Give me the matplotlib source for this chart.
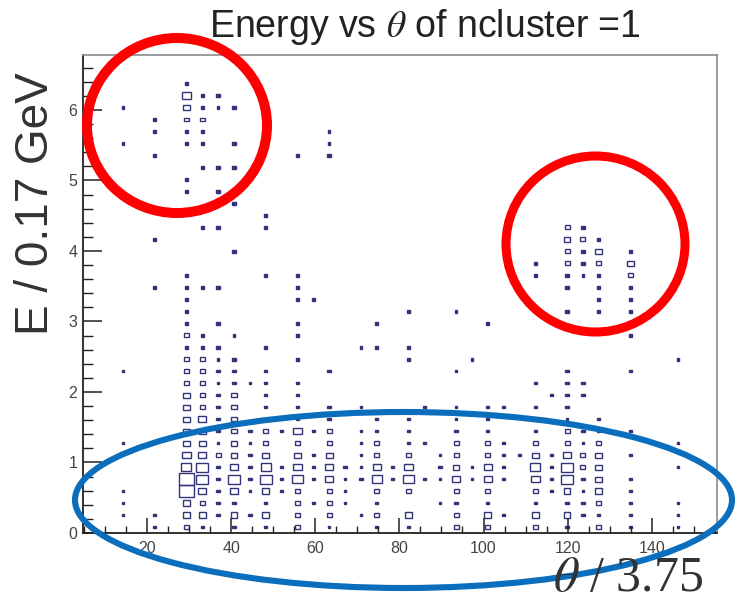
import matplotlib
matplotlib.use("Agg")
import matplotlib.pyplot as plt
from matplotlib.patches import Rectangle, Ellipse
from matplotlib.ticker import MultipleLocator

# -------------------------------- Data --------------------------------
# 2D histogram contents: one string per energy bin, from the top bin (37)
# down to bin 0; one character per theta bin ('.' = empty bin).
COUNTS = [
    "....2. ...... ...... ...... ...... ......",  # 37
    "....52 2..... ...... ...... ...... ......",  # 36
    "1...42 12.... ...... ...... ...... ......",  # 35
    "..2.33 ...... ...... ...... ...... ......",  # 34
    "..1.22 ...... .1.... ...... ...... ......",  # 33
    "1...22 .2.... .1.... ...... ...... ......",  # 32
    "..2... .....1 .2.... ...... ...... ......",  # 31
    ".....2 22.... ...... ...... ...... ......",  # 30
    "....2. ...... ...... ...... ...... ......",  # 29
    "....2. 2..... ...... ...... ...... ......",  # 28
    "...... .2.... ...... ...... ...... ......",  # 27
    "...... ...2.. ...... ...... ...... ......",  # 26
    ".....2 2..1.. ...... ...... ....32 ......",  # 25
    "..1... ...... ...... ...... ....43 1.....",  # 24
    "...... .2.... ...... ...... ....32 4.2...",  # 23
    "...... ...... ...... ...... ..1.32 3.4...",  # 22
    "....1. ...1.1 ...... ...... ..1.21 2.3...",  # 21
    "..1.22 2....1 ...... ...... ....2. 2.2...",  # 20
    "....2. .....1 2..... ...... ...... 2.2...",  # 19
    "....2. ...... ...... 1..1.. ....2. 2.2...",  # 18
    "....2. 2....1 ....2. .....1 ...... ......",  # 17
    "....32 .1...2 ...... ...... ...... ..2...",  # 16
    "....22 2..1.. ...12. 1..... ...... ......",  # 15
    "....33 12...1 ...... 2...1. ...... .....1",  # 14
    "1...33 22.1.. .2.... ...1.. ....2. ..2...",  # 13
    "....33 1211.1 ...... ...... ..2.22 ......",  # 12
    "....43 23.2.2 ...... ...... ...122 ......",  # 11
    "....43 23.2.1 .2.1.. .1.1.1 1.2.2. ......",  # 10
    "....45 23.2.2 .2..1. 1..1.1 ..1.1. 2.....",  # 9
    "....44 232325 23.12. 2..2.2 ..2.32 2.1...",  # 8
    "1...44 1413.3 .3.13. 11.3.3 1.3.31 3....1",  # 7
    "....55 3424.4 14.13. 3.13.3 214253 4.1...",  # 6
    "....67 252625 252151 5.2415 2.6273 4....1",  # 5
    "....97 272726 251261 611515 2.5272 4.2...",  # 4
    "1...95 251413 .31.3. 3..3.3 ..3141 4.1...",  # 3
    "1...43 22.2.3 231.2. ..12.2 ..2.22 3.2..1",  # 2
    "1.1.44 2424.3 .3.13. 4..3.4 1.4.42 2.2..1",  # 1
    "..1.32 .2.2.3 .1..2. 2..3.3 ..3.2. 3.2..1",  # 0
]

THETA_FIRST = 14.3   # centre of the first theta bin
THETA_BIN = 3.77
E_BIN = 0.17

TITLE = "Energy vs $\\theta$ of ncluster =1"
XLABEL = "$\\theta$ / 3.75"
YLABEL = "E / 0.17 GeV"

BOX_COLOR = "#33337a"
MIN_BOX_PX = 2.6
# ----------------------------------------------------------------------

plt.rcParams["font.family"] = ["Liberation Sans", "DejaVu Sans"]
plt.rcParams["mathtext.fontset"] = "stix"

fig = plt.figure(figsize=(7.36, 6.07), dpi=100)
ax = fig.add_axes([83 / 736, 1 - 533 / 607, 634 / 736, 478 / 607])
ax.set_xlim(4.8, 155.5)
ax.set_ylim(0, 6.78)

# data units per pixel, to keep the tiniest boxes visible as dots
px_x = (155.5 - 4.8) / 634
px_y = 6.78 / 478

max_count = max(int(c) for row in COUNTS for c in row if c.isdigit())
n_rows = len(COUNTS)
for r, row in enumerate(COUNTS):
    j = n_rows - 1 - r
    for i, ch in enumerate(row.replace(" ", "")):
        if ch == ".":
            continue
        c = int(ch)
        xc = THETA_FIRST + i * THETA_BIN
        yc = (j + 0.5) * E_BIN
        w = max(THETA_BIN * c / max_count * 0.96, MIN_BOX_PX * px_x)
        h = max(E_BIN * c / max_count * 0.96, MIN_BOX_PX * px_y)
        ax.add_patch(Rectangle((xc - w / 2, yc - h / 2), w, h,
                               facecolor=BOX_COLOR if c <= 2 else "none",
                               edgecolor=BOX_COLOR, linewidth=1.0))

ax.xaxis.set_major_locator(MultipleLocator(20))
ax.xaxis.set_minor_locator(MultipleLocator(5))
ax.yaxis.set_major_locator(MultipleLocator(1))
ax.yaxis.set_minor_locator(MultipleLocator(0.2))
ax.tick_params(axis="both", which="both", direction="in", top=False, right=False,
               labelsize=11.5, colors="#222222", labelcolor="#444444")
ax.tick_params(axis="y", which="major", length=14, width=1.1, pad=4)
ax.tick_params(axis="y", which="minor", length=7, width=1.0)
ax.tick_params(axis="x", which="major", length=11, width=1.1, pad=6)
ax.tick_params(axis="x", which="minor", length=5, width=1.0)
for side in ("left", "bottom"):
    ax.spines[side].set_color("#222222")
    ax.spines[side].set_linewidth(1.3)
for side in ("top", "right"):
    ax.spines[side].set_color("#8a8a8a")
    ax.spines[side].set_linewidth(1.2)

fig.text(425 / 736, 1 - 27 / 607, TITLE, ha="center", va="center",
         fontsize=27, color="#222222")
fig.text(36 / 736, 1 - 204 / 607, YLABEL, ha="center", va="center",
         rotation=90, fontsize=33, color="#333333")
fig.text(628 / 736, 1 - 579 / 607, XLABEL, ha="center", va="center",
         fontsize=36, color="#333333", family="Liberation Serif")

# hand-drawn highlight rings on top of the plot (figure pixel coordinates)
over = fig.add_axes([0, 0, 1, 1], facecolor="none")
over.set_xlim(0, 736)
over.set_ylim(607, 0)
over.axis("off")
over.add_patch(Ellipse((177, 125.5), 180, 175, fill=False,
                       edgecolor="#ff0000", linewidth=7.2))
over.add_patch(Ellipse((595.5, 244), 179, 176, fill=False,
                       edgecolor="#ff0000", linewidth=6.5))
over.add_patch(Ellipse((403.5, 500), 657, 176, fill=False,
                       edgecolor="#0a6ebd", linewidth=4.4))

fig.savefig("out.png", dpi=100)
